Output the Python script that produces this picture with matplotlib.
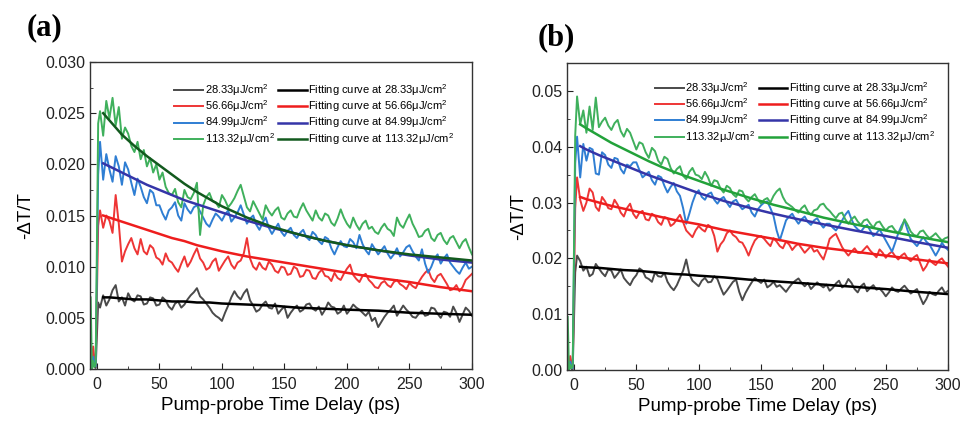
import matplotlib
matplotlib.use("Agg")
import matplotlib.pyplot as plt
from matplotlib.ticker import MultipleLocator, FormatStrFormatter

plt.rcParams['font.family'] = ['Liberation Sans', 'DejaVu Sans']
plt.rcParams['mathtext.fontset'] = 'custom'
plt.rcParams['mathtext.rm'] = 'Liberation Sans'
plt.rcParams['mathtext.default'] = 'regular'

# time axis of the measured traces (ps): 5 points before time zero, then every 2.5 ps
t_data = [-5, -4, -3, -2, -1, 1] + [2.5 * i for i in range(1, 121)]
# time axis of the fitting curves (ps)
t_fit = [5, 10, 20, 30, 40, 50, 60, 70, 80, 90, 100, 120, 140, 160, 180, 200, 225, 250, 275, 300]

fluences = ['28.33', '56.66', '84.99', '113.32']
data_labels = [f + 'μJ/cm$^2$' for f in fluences]
fit_labels = ['Fitting curve at ' + f + 'μJ/cm$^2$' for f in fluences]

# ---- panel (a) ----
a_28 = [0.0, 0.0002, 0.0006, 0.0002, 0.0001,
        0.0065, 0.0060, 0.0072, 0.0062, 0.0068, 0.0077, 0.0082, 0.0066, 0.0070, 0.0062,
        0.0074, 0.0068, 0.0066, 0.0072, 0.0071, 0.0063, 0.0064, 0.0070, 0.0069, 0.0062,
        0.0063, 0.0070, 0.0067, 0.0061, 0.0058, 0.0064, 0.0066, 0.0060, 0.0063, 0.0068,
        0.0072, 0.0075, 0.0079, 0.0071, 0.0068, 0.0064, 0.0060, 0.0055, 0.0052, 0.0050,
        0.0047, 0.0055, 0.0062, 0.0070, 0.0076, 0.0071, 0.0068, 0.0074, 0.0078, 0.0067,
        0.0062, 0.0056, 0.0058, 0.0063, 0.0066, 0.0060, 0.0059, 0.0064, 0.0054, 0.0058,
        0.0061, 0.0050, 0.0055, 0.0059, 0.0062, 0.0056, 0.0058, 0.0063, 0.0064, 0.0059,
        0.0057, 0.0061, 0.0053, 0.0058, 0.0065, 0.0061, 0.0060, 0.0054, 0.0056, 0.0062,
        0.0054, 0.0058, 0.0063, 0.0060, 0.0058, 0.0055, 0.0052, 0.0056, 0.0047, 0.0050,
        0.0041, 0.0046, 0.0051, 0.0055, 0.0058, 0.0062, 0.0052, 0.0057, 0.0062, 0.0058,
        0.0055, 0.0051, 0.0050, 0.0054, 0.0057, 0.0052, 0.0053, 0.0060, 0.0059, 0.0054,
        0.0050, 0.0056, 0.0055, 0.0051, 0.0061, 0.0055, 0.0046, 0.0053, 0.0060, 0.0057,
        0.0052]
a_56 = [0.0, 0.0003, 0.0022, 0.0008, 0.0004,
        0.0140, 0.0155, 0.0138, 0.0150, 0.0145, 0.0133, 0.0170, 0.0142, 0.0105, 0.0115,
        0.0122, 0.0128, 0.0118, 0.0112, 0.0127, 0.0115, 0.0112, 0.0121, 0.0118, 0.0109,
        0.0107, 0.0102, 0.0113, 0.0106, 0.0104, 0.0099, 0.0095, 0.0103, 0.0110, 0.0100,
        0.0105, 0.0112, 0.0118, 0.0108, 0.0104, 0.0097, 0.0099, 0.0105, 0.0108, 0.0096,
        0.0101, 0.0106, 0.0110, 0.0102, 0.0098, 0.0104, 0.0106, 0.0113, 0.0128, 0.0108,
        0.0100, 0.0097, 0.0104, 0.0099, 0.0097, 0.0105, 0.0102, 0.0096, 0.0094, 0.0100,
        0.0099, 0.0092, 0.0093, 0.0100, 0.0098, 0.0090, 0.0091, 0.0097, 0.0096, 0.0089,
        0.0088, 0.0094, 0.0097, 0.0091, 0.0090, 0.0086, 0.0094, 0.0089, 0.0087, 0.0093,
        0.0098, 0.0102, 0.0092, 0.0088, 0.0085, 0.0091, 0.0093, 0.0087, 0.0084, 0.0080,
        0.0079, 0.0084, 0.0086, 0.0082, 0.0080, 0.0085, 0.0087, 0.0083, 0.0081, 0.0078,
        0.0084, 0.0081, 0.0079, 0.0085, 0.0090, 0.0094, 0.0097, 0.0089, 0.0085, 0.0091,
        0.0093, 0.0088, 0.0083, 0.0077, 0.0078, 0.0082, 0.0076, 0.0080, 0.0087, 0.0090,
        0.0093]
a_85 = [0.0, 0.0002, 0.0012, 0.0004, 0.0003,
        0.0190, 0.0222, 0.0185, 0.0210, 0.0195, 0.0183, 0.0208, 0.0198, 0.0180, 0.0202,
        0.0195, 0.0182, 0.0170, 0.0186, 0.0178, 0.0168, 0.0162, 0.0175, 0.0172, 0.0160,
        0.0160, 0.0152, 0.0146, 0.0155, 0.0158, 0.0163, 0.0150, 0.0145, 0.0162, 0.0156,
        0.0152, 0.0158, 0.0160, 0.0154, 0.0148, 0.0142, 0.0139, 0.0146, 0.0152, 0.0149,
        0.0145, 0.0151, 0.0155, 0.0144, 0.0148, 0.0153, 0.0160, 0.0151, 0.0142, 0.0147,
        0.0150, 0.0141, 0.0136, 0.0143, 0.0148, 0.0138, 0.0132, 0.0137, 0.0142, 0.0134,
        0.0130, 0.0135, 0.0138, 0.0131, 0.0128, 0.0133, 0.0136, 0.0129, 0.0126, 0.0134,
        0.0131, 0.0125, 0.0122, 0.0129, 0.0127, 0.0118, 0.0112, 0.0119, 0.0125, 0.0120,
        0.0119, 0.0127, 0.0124, 0.0118, 0.0131, 0.0122, 0.0116, 0.0112, 0.0122, 0.0117,
        0.0112, 0.0116, 0.0120, 0.0113, 0.0108, 0.0112, 0.0118, 0.0110, 0.0114, 0.0119,
        0.0121, 0.0115, 0.0110, 0.0106, 0.0117, 0.0103, 0.0094, 0.0100, 0.0108, 0.0112,
        0.0103, 0.0108, 0.0112, 0.0104, 0.0100, 0.0096, 0.0093, 0.0099, 0.0104, 0.0098,
        0.0100]
a_113 = [0.0070, 0.0, 0.0008, 0.0002, 0.0005,
         0.0240, 0.0252, 0.0228, 0.0262, 0.0245, 0.0265, 0.0238, 0.0256, 0.0225, 0.0236,
         0.0230, 0.0218, 0.0212, 0.0222, 0.0205, 0.0214, 0.0198, 0.0206, 0.0192, 0.0200,
         0.0185, 0.0192, 0.0178, 0.0172, 0.0170, 0.0176, 0.0163, 0.0158, 0.0175, 0.0168,
         0.0166, 0.0172, 0.0182, 0.0131, 0.0160, 0.0168, 0.0172, 0.0164, 0.0163, 0.0158,
         0.0170, 0.0165, 0.0158, 0.0162, 0.0167, 0.0174, 0.0180, 0.0169, 0.0158, 0.0154,
         0.0164, 0.0158, 0.0152, 0.0146, 0.0160, 0.0154, 0.0150, 0.0155, 0.0158, 0.0148,
         0.0146, 0.0152, 0.0155, 0.0149, 0.0148, 0.0156, 0.0162, 0.0155, 0.0150, 0.0145,
         0.0155, 0.0148, 0.0145, 0.0152, 0.0150, 0.0143, 0.0140, 0.0147, 0.0156, 0.0148,
         0.0142, 0.0138, 0.0148, 0.0141, 0.0136, 0.0142, 0.0145, 0.0137, 0.0139, 0.0134,
         0.0132, 0.0138, 0.0142, 0.0137, 0.0135, 0.0130, 0.0148, 0.0141, 0.0138, 0.0145,
         0.0151, 0.0142, 0.0136, 0.0129, 0.0130, 0.0135, 0.0137, 0.0128, 0.0125, 0.0131,
         0.0133, 0.0126, 0.0122, 0.0128, 0.0130, 0.0124, 0.0118, 0.0124, 0.0127, 0.0119,
         0.0112]

a_fit_28 = [0.0070, 0.0070, 0.0069, 0.0068, 0.0068, 0.0067, 0.0066, 0.0066, 0.0065, 0.0065,
            0.0064, 0.0063, 0.0062, 0.0060, 0.0059, 0.0058, 0.0057, 0.0055, 0.0054, 0.0053]
a_fit_56 = [0.0150, 0.0148, 0.0144, 0.0140, 0.0136, 0.0132, 0.0128, 0.0125, 0.0121, 0.0118,
            0.0115, 0.0110, 0.0106, 0.0102, 0.0098, 0.0094, 0.0089, 0.0085, 0.0080, 0.0076]
a_fit_85 = [0.0201, 0.0198, 0.0192, 0.0186, 0.0180, 0.0175, 0.0170, 0.0165, 0.0161, 0.0157,
            0.0153, 0.0145, 0.0138, 0.0132, 0.0126, 0.0121, 0.0116, 0.0111, 0.0107, 0.0104]
a_fit_113 = [0.0250, 0.0243, 0.0229, 0.0218, 0.0208, 0.0199, 0.0190, 0.0181, 0.0173, 0.0166,
             0.0159, 0.0148, 0.0139, 0.0132, 0.0126, 0.0121, 0.0116, 0.0112, 0.0109, 0.0106]

# ---- panel (b) ----
b_28 = [0.0, 0.0003, 0.0008, 0.0002, 0.0001,
        0.0175, 0.0205, 0.0195, 0.0178, 0.0185, 0.0168, 0.0172, 0.0190, 0.0182, 0.0174,
        0.0168, 0.0180, 0.0178, 0.0165, 0.0172, 0.0180, 0.0165, 0.0158, 0.0152, 0.0163,
        0.0170, 0.0182, 0.0178, 0.0166, 0.0163, 0.0158, 0.0175, 0.0168, 0.0167, 0.0174,
        0.0158, 0.0149, 0.0143, 0.0152, 0.0165, 0.0178, 0.0198, 0.0172, 0.0160, 0.0155,
        0.0150, 0.0160, 0.0165, 0.0157, 0.0158, 0.0168, 0.0163, 0.0148, 0.0135, 0.0142,
        0.0150, 0.0158, 0.0162, 0.0140, 0.0125, 0.0138, 0.0148, 0.0157, 0.0165, 0.0160,
        0.0156, 0.0162, 0.0148, 0.0152, 0.0158, 0.0149, 0.0152, 0.0146, 0.0140, 0.0148,
        0.0155, 0.0160, 0.0164, 0.0156, 0.0150, 0.0156, 0.0145, 0.0151, 0.0157, 0.0152,
        0.0148, 0.0153, 0.0142, 0.0147, 0.0155, 0.0160, 0.0148, 0.0152, 0.0163, 0.0156,
        0.0145, 0.0139, 0.0150, 0.0155, 0.0141, 0.0147, 0.0152, 0.0144, 0.0146, 0.0140,
        0.0132, 0.0139, 0.0148, 0.0142, 0.0140, 0.0146, 0.0151, 0.0144, 0.0137, 0.0141,
        0.0145, 0.0131, 0.0118, 0.0127, 0.0140, 0.0136, 0.0134, 0.0142, 0.0148, 0.0138,
        0.0142]
b_56 = [0.0, 0.0004, 0.0025, 0.0010, 0.0004,
        0.0290, 0.0345, 0.0305, 0.0285, 0.0300, 0.0325, 0.0318, 0.0292, 0.0285, 0.0310,
        0.0302, 0.0290, 0.0288, 0.0305, 0.0296, 0.0282, 0.0275, 0.0290, 0.0298, 0.0280,
        0.0272, 0.0282, 0.0285, 0.0270, 0.0268, 0.0280, 0.0276, 0.0265, 0.0260, 0.0274,
        0.0272, 0.0258, 0.0262, 0.0270, 0.0278, 0.0265, 0.0250, 0.0244, 0.0238, 0.0250,
        0.0258, 0.0252, 0.0248, 0.0260, 0.0256, 0.0240, 0.0212, 0.0225, 0.0232, 0.0245,
        0.0250, 0.0242, 0.0238, 0.0230, 0.0228, 0.0218, 0.0205, 0.0220, 0.0232, 0.0238,
        0.0240, 0.0235, 0.0228, 0.0222, 0.0236, 0.0230, 0.0222, 0.0218, 0.0230, 0.0225,
        0.0215, 0.0222, 0.0226, 0.0218, 0.0210, 0.0216, 0.0222, 0.0212, 0.0215, 0.0206,
        0.0198, 0.0215, 0.0235, 0.0240, 0.0244, 0.0232, 0.0220, 0.0212, 0.0205, 0.0212,
        0.0218, 0.0210, 0.0210, 0.0216, 0.0222, 0.0214, 0.0208, 0.0202, 0.0216, 0.0210,
        0.0201, 0.0208, 0.0212, 0.0204, 0.0198, 0.0205, 0.0209, 0.0200, 0.0195, 0.0202,
        0.0206, 0.0192, 0.0178, 0.0186, 0.0198, 0.0192, 0.0188, 0.0196, 0.0200, 0.0192,
        0.0185]
b_85 = [0.0, 0.0002, 0.0015, 0.0005, 0.0003,
        0.0370, 0.0418, 0.0345, 0.0405, 0.0375, 0.0398, 0.0395, 0.0352, 0.0350, 0.0390,
        0.0385, 0.0368, 0.0362, 0.0380, 0.0378, 0.0360, 0.0352, 0.0368, 0.0365, 0.0372,
        0.0372, 0.0358, 0.0345, 0.0350, 0.0355, 0.0340, 0.0332, 0.0348, 0.0345, 0.0330,
        0.0318, 0.0328, 0.0335, 0.0320, 0.0312, 0.0290, 0.0262, 0.0280, 0.0300, 0.0315,
        0.0322, 0.0310, 0.0305, 0.0315, 0.0318, 0.0305, 0.0298, 0.0306, 0.0310, 0.0300,
        0.0292, 0.0302, 0.0305, 0.0295, 0.0288, 0.0292, 0.0296, 0.0282, 0.0275, 0.0288,
        0.0295, 0.0300, 0.0302, 0.0290, 0.0276, 0.0250, 0.0232, 0.0250, 0.0268, 0.0275,
        0.0280, 0.0270, 0.0262, 0.0270, 0.0275, 0.0265, 0.0260, 0.0268, 0.0272, 0.0262,
        0.0255, 0.0262, 0.0262, 0.0255, 0.0250, 0.0258, 0.0268, 0.0278, 0.0285, 0.0270,
        0.0258, 0.0252, 0.0248, 0.0255, 0.0260, 0.0250, 0.0240, 0.0245, 0.0252, 0.0242,
        0.0232, 0.0222, 0.0212, 0.0228, 0.0245, 0.0258, 0.0268, 0.0250, 0.0235, 0.0228,
        0.0222, 0.0230, 0.0238, 0.0230, 0.0225, 0.0215, 0.0205, 0.0215, 0.0228, 0.0220,
        0.0215]
b_113 = [0.0095, 0.0, 0.0010, 0.0003, 0.0006,
         0.0420, 0.0490, 0.0440, 0.0465, 0.0425, 0.0472, 0.0430, 0.0488, 0.0435, 0.0445,
         0.0452, 0.0438, 0.0430, 0.0442, 0.0448, 0.0428, 0.0418, 0.0432, 0.0425, 0.0410,
         0.0395, 0.0408, 0.0405, 0.0390, 0.0380, 0.0398, 0.0392, 0.0375, 0.0368, 0.0382,
         0.0378, 0.0362, 0.0352, 0.0360, 0.0365, 0.0348, 0.0342, 0.0355, 0.0362, 0.0350,
         0.0348, 0.0342, 0.0355, 0.0345, 0.0330, 0.0340, 0.0338, 0.0325, 0.0318, 0.0330,
         0.0326, 0.0315, 0.0310, 0.0322, 0.0320, 0.0308, 0.0302, 0.0310, 0.0315, 0.0305,
         0.0298, 0.0305, 0.0308, 0.0300, 0.0312, 0.0320, 0.0325, 0.0310, 0.0300, 0.0296,
         0.0292, 0.0286, 0.0282, 0.0290, 0.0295, 0.0284, 0.0278, 0.0286, 0.0288, 0.0296,
         0.0298, 0.0290, 0.0285, 0.0278, 0.0272, 0.0280, 0.0282, 0.0270, 0.0262, 0.0270,
         0.0275, 0.0266, 0.0260, 0.0268, 0.0270, 0.0262, 0.0255, 0.0264, 0.0266, 0.0257,
         0.0250, 0.0256, 0.0258, 0.0250, 0.0245, 0.0252, 0.0270, 0.0260, 0.0248, 0.0242,
         0.0240, 0.0248, 0.0250, 0.0242, 0.0236, 0.0240, 0.0245, 0.0238, 0.0232, 0.0236,
         0.0238]

b_fit_28 = [0.0185, 0.0184, 0.0183, 0.0181, 0.0179, 0.0178, 0.0176, 0.0174, 0.0172, 0.0171,
            0.0169, 0.0166, 0.0162, 0.0159, 0.0156, 0.0153, 0.0149, 0.0145, 0.0140, 0.0136]
b_fit_56 = [0.0310, 0.0306, 0.0300, 0.0294, 0.0289, 0.0284, 0.0279, 0.0274, 0.0269, 0.0265,
            0.0261, 0.0251, 0.0243, 0.0235, 0.0226, 0.0219, 0.0212, 0.0205, 0.0198, 0.0191]
b_fit_85 = [0.0401, 0.0395, 0.0385, 0.0376, 0.0367, 0.0358, 0.0349, 0.0341, 0.0333, 0.0325,
            0.0317, 0.0303, 0.0291, 0.0280, 0.0270, 0.0261, 0.0250, 0.0240, 0.0229, 0.0219]
b_fit_113 = [0.0440, 0.0433, 0.0420, 0.0407, 0.0396, 0.0385, 0.0374, 0.0364, 0.0355, 0.0347,
             0.0339, 0.0323, 0.0309, 0.0296, 0.0285, 0.0273, 0.0261, 0.0250, 0.0239, 0.0229]

data_colors = ['#4a4a4a', '#ee3535', '#2f7ed3', '#3fb05c']
fit_colors_a = ['#000000', '#ee1d1d', '#3535a8', '#125a1e']
fit_colors_b = ['#000000', '#ee1d1d', '#3535a8', '#22a23a']


def draw_panel(ax, series, fits, fit_colors, ymax, ystep, yfmt, ylabelpad):
    handles = []
    for y, c in zip(series, data_colors):
        h, = ax.plot(t_data, y, color=c, lw=1.4)
        handles.append(h)
    for y, c in zip(fits, fit_colors):
        h, = ax.plot(t_fit, y, color=c, lw=1.8)
        handles.append(h)
    ax.set_xlim(-5.5, 300)
    ax.set_ylim(0, ymax)
    ax.xaxis.set_major_locator(MultipleLocator(50))
    ax.xaxis.set_minor_locator(MultipleLocator(25))
    ax.yaxis.set_major_locator(MultipleLocator(ystep))
    ax.yaxis.set_minor_locator(MultipleLocator(ystep / 2))
    ax.yaxis.set_major_formatter(FormatStrFormatter(yfmt))
    ax.tick_params(which='both', direction='in', labelsize=11.5, colors='#222222')
    ax.tick_params(which='major', length=4)
    ax.tick_params(which='minor', length=2.5)
    ax.tick_params(axis='x', pad=6)
    for s in ax.spines.values():
        s.set_linewidth(1.0)
        s.set_color('#333333')
    ax.set_xlabel('Pump-probe Time Delay (ps)', fontsize=13.5, labelpad=3)
    ax.set_ylabel('-ΔT/T', fontsize=13.5, labelpad=ylabelpad)
    return handles


fig = plt.figure(figsize=(9.62, 4.21), dpi=100)

ax_a = fig.add_axes([0.0936, 0.1235, 0.397, 0.7292])
h = draw_panel(ax_a, [a_28, a_56, a_85, a_113],
               [a_fit_28, a_fit_56, a_fit_85, a_fit_113],
               fit_colors_a, 0.030, 0.005, '%.3f', 8)
ax_a.legend(h, data_labels + fit_labels, ncol=2, loc='upper left',
            bbox_to_anchor=(0.22, 0.935), frameon=False, fontsize=8,
            handlelength=2.6, handletextpad=0.15, columnspacing=0.3,
            labelspacing=0.05, borderpad=0, borderaxespad=0)

ax_b = fig.add_axes([0.5895, 0.1211, 0.3961, 0.7293])
h = draw_panel(ax_b, [b_28, b_56, b_85, b_113],
               [b_fit_28, b_fit_56, b_fit_85, b_fit_113],
               fit_colors_b, 0.055, 0.01, '%.2f', 3)
ax_b.legend(h, data_labels + fit_labels, ncol=2, loc='upper left',
            bbox_to_anchor=(0.23, 0.945), frameon=False, fontsize=8,
            handlelength=2.6, handletextpad=0.15, columnspacing=0.3,
            labelspacing=0.05, borderpad=0, borderaxespad=0)

fig.text(0.046, 0.935, '(a)', fontsize=22, fontweight='bold',
         family='Liberation Serif', ha='center', va='center')
fig.text(0.578, 0.910, '(b)', fontsize=22, fontweight='bold',
         family='Liberation Serif', ha='center', va='center')

fig.savefig('out.png', dpi=100)
